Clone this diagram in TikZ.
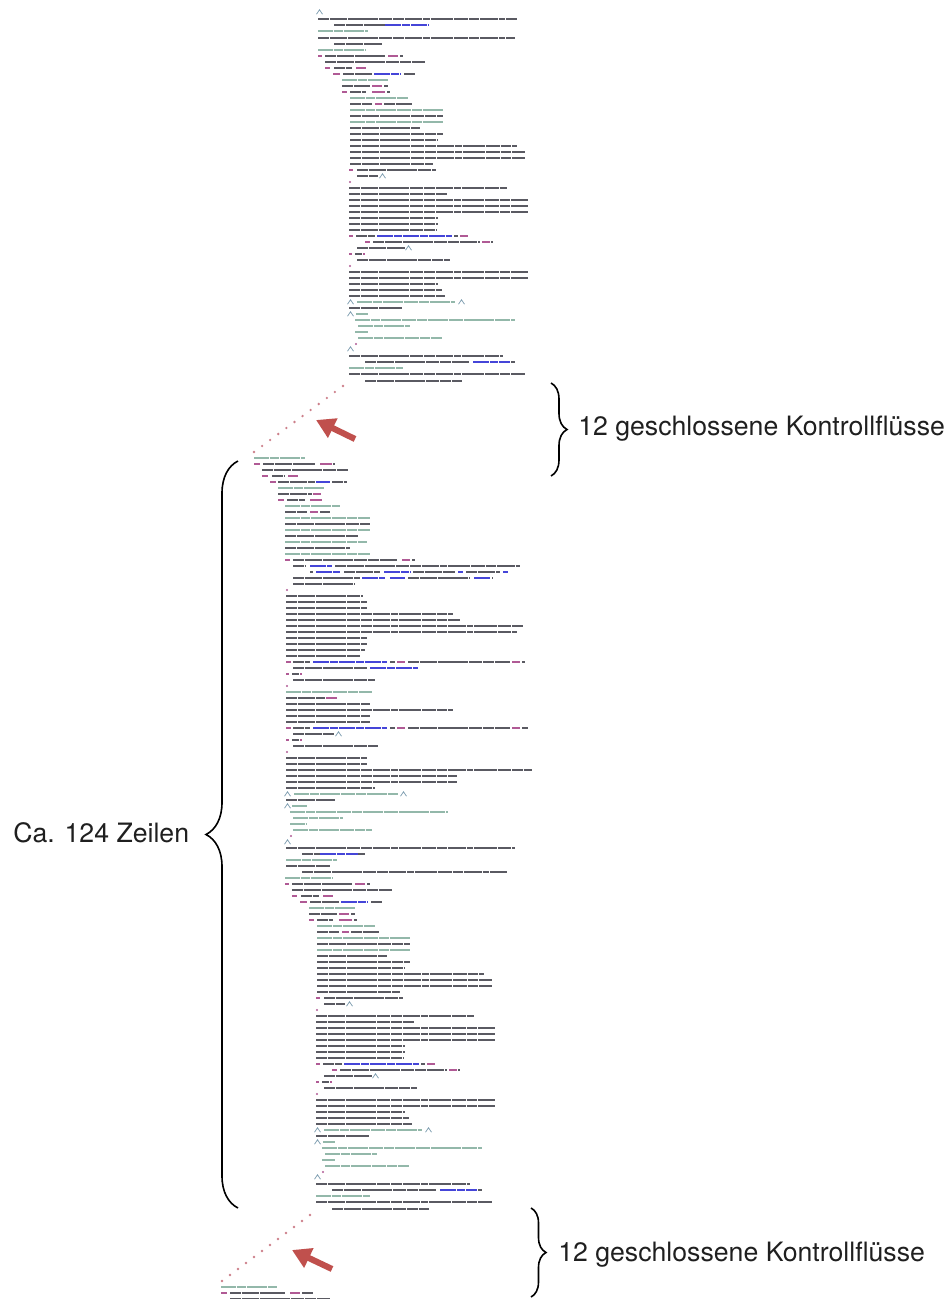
\documentclass[tikz,border=0pt]{standalone}
\usepackage{fontspec}
\setmainfont{TeX Gyre Heros}
\usetikzlibrary{calc,arrows.meta,decorations.pathreplacing}
\definecolor{cdark}{HTML}{5A5A62}
\definecolor{ccomm}{HTML}{93B8AA}
\definecolor{ckey}{HTML}{B05A95}
\definecolor{cblue}{HTML}{4545D8}
\definecolor{cdot}{HTML}{CC7F8A}
\definecolor{carrow}{HTML}{C0504D}
\newcommand{\qd}[3]{\draw[tokd] (#2,#1) -- (#3,#1);}
\newcommand{\qm}[3]{\draw[tokm] (#2,#1) -- (#3,#1);}
\newcommand{\qk}[3]{\draw[tokk] (#2,#1) -- (#3,#1);}
\newcommand{\qb}[3]{\draw[tokb] (#2,#1) -- (#3,#1);}
\newcommand{\qc}[2]{\draw[tokc] (#2-0.5,#1+2.2) -- (#2+2.5,#1-2.2) -- (#2+5.5,#1+2.2);}
\newcommand{\qp}[2]{\fill[ckey] (#2,#1) circle (1.2);}
\newcommand{\bodyA}{%
\qm{50}{318}{366}
\qk{56}{318}{322}\qd{56}{325}{386}\qk{56}{388}{398}\qd{56}{400}{403}
\qd{62}{325}{425}
\qk{68}{325}{330}\qd{68}{334}{352}\qk{68}{356}{366}
\qk{74}{333}{340}\qd{74}{343}{372}\qb{74}{374}{400}\qd{74}{404}{415}
\qm{80}{342}{388}
\qd{86}{342}{370}\qk{86}{372}{382}\qd{86}{384}{388}
\qk{92}{342}{347}\qd{92}{350}{366}\qk{92}{372}{385}\qd{92}{387}{390}
\qm{98}{350}{408}
\qd{104}{350}{372}\qk{104}{375}{382}\qd{104}{384}{412}
\qm{110}{350}{443}
\qd{116}{350}{443}
\qm{122}{350}{443}
\qd{128}{350}{420}
\qd{134}{350}{443}
\qd{140}{350}{438}
\qd{146}{350}{517}
\qd{152}{350}{525}
\qd{158}{350}{525}
\qd{164}{350}{433}
\qk{170}{349}{353}\qd{170}{357}{436}
\qd{176}{357}{378}\qc{176}{380}
\qp{182}{350}
\qd{188}{349}{507}
\qd{194}{349}{447}
\qd{200}{349}{528}
\qd{206}{349}{528}
\qd{212}{349}{528}
\qd{218}{349}{438}
\qd{224}{349}{438}
\qd{230}{349}{437}
\qk{236}{349}{353}\qd{236}{356}{375}\qb{236}{377}{452}\qd{236}{454}{458}\qk{236}{460}{468}
\qk{242}{365}{370}\qd{242}{373}{480}\qk{242}{482}{490}\qd{242}{491}{493}
\qd{248}{357}{405}\qc{248}{406}
\qk{254}{349}{352}\qd{254}{355}{362}\qk{254}{363}{365}
\qd{260}{357}{450}
\qp{266}{350}
\qd{272}{349}{528}
\qd{278}{349}{528}
\qd{284}{349}{438}
\qd{290}{349}{442}
\qd{296}{349}{445}
\qc{302}{348}\qm{302}{357}{455}\qc{302}{459}
\qd{308}{349}{402}
\qc{314}{348}\qm{314}{356}{368}
\qm{320}{355}{515}
\qm{326}{358}{410}
\qm{332}{355}{368}
\qm{338}{358}{442}
\qp{344}{356}
\qc{349}{348}
\qd{356}{349}{503}
\qd{362}{365}{470}\qb{362}{473}{510}\qd{362}{511}{515}
\qm{368}{349}{403}
\qd{374}{349}{525}
\qd{381}{365}{462}
}
\tikzset{
  tokd/.style={line width=1.65pt, draw=cdark, dash pattern=on 8pt off 0.7pt on 13pt off 0.7pt on 5pt off 0.7pt on 17pt off 0.7pt on 10pt off 0.7pt},
  tokm/.style={line width=1.65pt, draw=ccomm, dash pattern=on 11pt off 0.7pt on 7pt off 0.7pt on 15pt off 0.7pt},
  tokk/.style={line width=1.65pt, draw=ckey},
  tokb/.style={line width=1.65pt, draw=cblue, dash pattern=on 12pt off 0.7pt on 6pt off 0.7pt},
  tokc/.style={line width=0.6pt, draw=ccomm!80!cblue},
  lbl/.style={font=\fontsize{20}{24}\selectfont, text=black!88, inner sep=0pt},
  bracedeco/.style={decorate, decoration={brace, amplitude=#1}, line width=1.2pt, draw=black},
  redarrow/.style={draw=carrow, line width=4.6pt, -{Triangle[length=14pt,width=15.5pt]}},
}
\begin{document}
\begin{tikzpicture}[x=0.75pt,y=-0.75pt]
\useasboundingbox (0,0) rectangle (951,1299);
\begin{scope}
\clip (0,0) rectangle (951,1299);
% ---------- block 1 ----------
\qc{12}{317}
\qd{19}{318}{517}
\qd{25}{334}{385}\qb{25}{385}{428}
\qm{31}{318}{368}
\qd{38}{318}{515}
\qd{44}{334}{382}
\bodyA
% ---------- block 2 (upper part) ----------
\qm{458}{254}{305}
\qk{464}{254}{260}\qd{464}{263}{315}\qk{464}{320}{332}\qd{464}{333}{335}
\qd{470}{262}{348}
\qk{476}{262}{268}\qd{476}{272}{285}\qk{476}{288}{298}
\qk{482}{270}{276}\qd{482}{278}{315}\qb{482}{316}{330}\qd{482}{332}{347}
\qm{488}{278}{324}
\qd{494}{278}{312}\qk{494}{313}{321}
\qk{500}{278}{284}\qd{500}{287}{305}\qk{500}{310}{322}
\qm{506}{285}{340}
\qd{512}{285}{307}\qk{512}{310}{318}\qd{512}{320}{330}
\qm{518}{285}{370}
\qd{524}{285}{370}
\qm{530}{285}{370}
\qd{536}{285}{358}
\qm{542}{285}{367}
\qd{548}{285}{350}
\qm{554}{285}{370}
\qk{560}{285}{290}\qd{560}{293}{398}\qk{560}{402}{410}\qd{560}{412}{415}
\qd{566}{293}{305}\qb{566}{310}{332}\qd{566}{335}{520}
\qd{572}{310}{313}\qb{572}{316}{340}\qd{572}{344}{380}\qb{572}{384}{410}\qd{572}{413}{455}\qb{572}{458}{463}\qd{572}{466}{500}\qb{572}{503}{508}
\qd{578}{293}{360}\qb{578}{362}{385}\qb{578}{390}{405}\qd{578}{408}{470}\qb{578}{474}{490}\qd{578}{492}{493}
\qd{584}{293}{355}
\qp{590}{287}
\qd{596}{286}{363}
\qd{602}{286}{367}
\qd{608}{286}{367}
\qd{614}{286}{453}
\qd{620}{286}{460}
\qd{626}{286}{523}
\qd{632}{286}{517}
\qd{638}{286}{367}
\qd{644}{286}{367}
\qd{650}{286}{365}
\qd{656}{286}{360}
\qk{662}{286}{291}\qd{662}{293}{310}\qb{662}{313}{387}\qd{662}{390}{395}\qk{662}{397}{405}\qd{662}{408}{510}\qk{662}{512}{520}\qd{662}{522}{525}
\qd{668}{293}{368}\qb{668}{370}{418}
\qk{674}{286}{289}\qd{674}{292}{299}\qk{674}{300}{302}
\qd{680}{293}{375}
\qp{686}{287}
\qm{692}{286}{372}
\qd{698}{286}{325}\qk{698}{326}{337}
\qd{704}{286}{370}
\qd{710}{286}{453}
\qd{716}{286}{370}
\qd{722}{286}{370}
\qk{728}{286}{291}\qd{728}{293}{310}\qb{728}{313}{387}\qd{728}{390}{395}\qk{728}{397}{405}\qd{728}{408}{510}\qk{728}{512}{520}\qd{728}{522}{528}
\qd{734}{293}{334}\qc{734}{336}
\qk{740}{286}{289}\qd{740}{292}{299}\qk{740}{300}{302}
\qd{746}{293}{378}
\qp{752}{287}
\qd{758}{286}{367}
\qd{764}{286}{367}
\qd{770}{286}{532}
\qd{776}{286}{457}
\qd{782}{286}{457}
\qd{788}{286}{375}
\qc{794}{285}\qm{794}{294}{398}\qc{794}{401}
\qd{800}{286}{335}
\qc{806}{285}\qm{806}{292}{307}
\qm{812}{290}{448}
\qm{818}{293}{343}
\qm{824}{290}{307}
\qm{830}{293}{372}
\qp{836}{291}
\qc{842}{285}
\qd{848}{286}{515}
\qd{854}{302}{320}\qb{854}{320}{358}\qd{854}{358}{365}
\qm{860}{286}{337}
\qd{866}{286}{330}
\qd{872}{302}{507}
% ---------- block 2 (lower part, repeated body) ----------
\begin{scope}[shift={(-33,828)}]
\bodyA
\end{scope}
% ---------- block 3 ----------
\qm{1287}{221}{277}
\qk{1293}{221}{227}\qd{1293}{230}{285}\qk{1293}{290}{300}\qd{1293}{302}{313}
\qd{1299}{230}{330}
\end{scope}
% ---------- dotted transitions ----------
\coordinate (d1s) at (343,386);
\coordinate (d1e) at (254,452);
\coordinate (d2s) at (310,1215);
\coordinate (d2e) at (222,1281);
\foreach \i in {0,...,11}{
  \fill[cdot] ($(d1s)!\i/11!(d1e)$) circle (1.3);
  \fill[cdot] ($(d2s)!\i/11!(d2e)$) circle (1.3);
}
% ---------- red arrows ----------
\coordinate (a1t) at (355,439);
\coordinate (a1h) at (316,420);
\coordinate (a2t) at (332,1269);
\coordinate (a2h) at (292,1250);
\draw[redarrow] (a1t) -- (a1h);
\draw[redarrow] (a2t) -- (a2h);
% ---------- braces ----------
\coordinate (b1a) at (551,383);
\coordinate (b1b) at (551,476);
\coordinate (b2a) at (531,1208);
\coordinate (b2b) at (531,1297);
\coordinate (b3a) at (238,1208);
\coordinate (b3b) at (238,461);
\draw[bracedeco=16*0.75pt] (b1a) -- (b1b);
\draw[bracedeco=15*0.75pt] (b2a) -- (b2b);
\draw[bracedeco=32*0.75pt] (b3a) -- (b3b);
% ---------- labels ----------
\node[lbl, anchor=base west] (t1) at (578,435) {12 geschlossene Kontrollflüsse};
\node[lbl, anchor=base west] (t2) at (558,1261) {12 geschlossene Kontrollflüsse};
\node[lbl, anchor=base west] (t3) at (13,842) {Ca. 124 Zeilen};
\end{tikzpicture}
\end{document}
